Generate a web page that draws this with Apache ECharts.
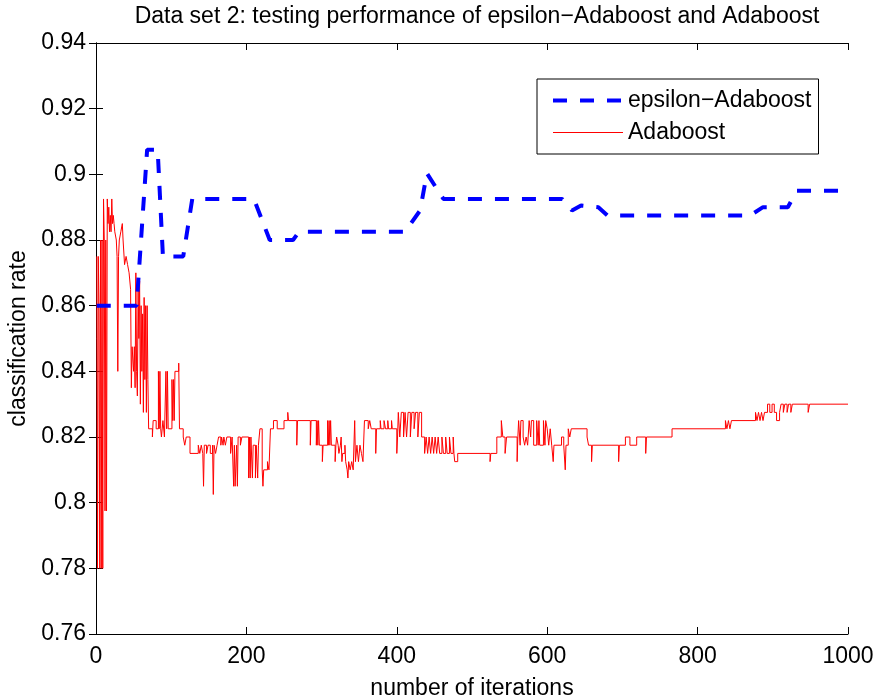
<!DOCTYPE html>
<html>
<head>
<meta charset="utf-8">
<script src="https://cdn.jsdelivr.net/npm/echarts@6/dist/echarts.min.js"></script>
<style>
  html, body { margin: 0; padding: 0; background: #fff; }
  #chart { width: 877px; height: 699px; }
</style>
</head>
<body>
<div id="chart"></div>
<script>
const titleText = 'Data set 2: testing performance of epsilon\u2212Adaboost and Adaboost'
const seriesNames = ['epsilon\u2212Adaboost', 'Adaboost']
const xTicks = [0, 200, 400, 600, 800, 1000]
const yTicks = [0.76, 0.78, 0.8, 0.82, 0.84, 0.86, 0.88, 0.9, 0.92, 0.94]

// [iteration, rate] breakpoints
const epsilonPts = [
  [1, 0.86], [54, 0.86], [68, 0.9075], [82, 0.9075], [89, 0.875], [116, 0.875],
  [128, 0.8925], [210, 0.8925], [231, 0.88], [262, 0.88], [270, 0.8825], [411, 0.8825],
  [431, 0.889], [440, 0.9003], [462, 0.8925], [620, 0.8925], [633, 0.889], [645, 0.8905],
  [668, 0.89], [680, 0.8875], [870, 0.8875], [887, 0.89], [920, 0.89], [932, 0.895], [1000, 0.895]
]

// Adaboost is a step curve: each value holds until the next breakpoint
const adaboostPts = [
  [1, 0.875], [2, 0.78], [3, 0.875], [4, 0.86], [5, 0.78], [6, 0.88], [7, 0.78], [8, 0.88],
  [9, 0.78], [10, 0.8925], [11, 0.88], [12, 0.7975], [13, 0.88], [14, 0.7975], [15, 0.8925],
  [16, 0.885], [17, 0.89], [18, 0.8825], [19, 0.8875], [20, 0.8825], [21, 0.8925], [22, 0.885],
  [23, 0.8875], [24, 0.885], [25, 0.8825], [27, 0.88], [28, 0.875], [29, 0.84], [30, 0.875],
  [31, 0.88], [33, 0.8825], [35, 0.885], [36, 0.88], [38, 0.8725], [40, 0.875], [42, 0.8725],
  [44, 0.87], [46, 0.865], [47, 0.835], [48, 0.8475], [50, 0.84], [51, 0.8475], [52, 0.835],
  [53, 0.87], [54, 0.84], [55, 0.8325], [56, 0.865], [57, 0.85], [58, 0.8675], [59, 0.83],
  [60, 0.86], [61, 0.84], [62, 0.8575], [63, 0.8275], [64, 0.8625], [65, 0.8375], [66, 0.86],
  [67, 0.8275], [68, 0.86], [69, 0.8375], [70, 0.8225], [75, 0.82], [76, 0.825], [80, 0.8225],
  [83, 0.84], [84, 0.8225], [85, 0.84], [86, 0.8225], [87, 0.82], [89, 0.825], [91, 0.82],
  [93, 0.84], [94, 0.8225], [95, 0.84], [96, 0.8225], [101, 0.8375], [102, 0.825], [103, 0.8375],
  [104, 0.825], [105, 0.84], [110, 0.8425], [111, 0.8225], [116, 0.82], [118, 0.8175], [120, 0.82],
  [122, 0.82], [125, 0.815], [136, 0.8175], [138, 0.815], [140, 0.8175], [142, 0.815], [143, 0.805],
  [144, 0.8175], [147, 0.815], [149, 0.8175], [152, 0.815], [155, 0.8175], [156, 0.8025], [157, 0.8175],
  [159, 0.815], [161, 0.8175], [163, 0.82], [166, 0.8175], [167, 0.82], [169, 0.8175], [170, 0.82],
  [172, 0.8175], [174, 0.82], [179, 0.815], [181, 0.82], [183, 0.805], [184, 0.8175], [185, 0.805],
  [187, 0.8175], [188, 0.805], [189, 0.82], [192, 0.8175], [194, 0.82], [203, 0.8075], [204, 0.82],
  [205, 0.8075], [206, 0.82], [208, 0.8075], [209, 0.8175], [212, 0.8075], [213, 0.8175], [215, 0.8075],
  [216, 0.8175], [218, 0.8225], [221, 0.81], [222, 0.805], [223, 0.81], [228, 0.8125], [230, 0.81],
  [232, 0.8225], [236, 0.825], [241, 0.8225], [250, 0.825], [255, 0.8275], [256, 0.825], [267, 0.8175],
  [268, 0.825], [285, 0.8175], [286, 0.825], [293, 0.8175], [294, 0.825], [295, 0.8175], [296, 0.825],
  [297, 0.8175], [301, 0.8125], [302, 0.8175], [308, 0.825], [309, 0.8175], [310, 0.825], [311, 0.8175],
  [312, 0.825], [313, 0.8175], [318, 0.8125], [319, 0.8175], [320, 0.82], [322, 0.8175], [323, 0.815],
  [325, 0.8175], [326, 0.82], [327, 0.8125], [328, 0.815], [331, 0.8175], [332, 0.8125], [334, 0.81],
  [335, 0.8075], [336, 0.8125], [338, 0.81], [340, 0.8125], [342, 0.81], [344, 0.825], [345, 0.8125],
  [347, 0.8175], [349, 0.8125], [351, 0.8175], [353, 0.815], [355, 0.8125], [357, 0.825], [362, 0.8225],
  [364, 0.825], [366, 0.8225], [372, 0.815], [373, 0.8225], [378, 0.825], [379, 0.8225], [383, 0.825],
  [385, 0.8225], [388, 0.825], [389, 0.8225], [393, 0.825], [394, 0.8225], [400, 0.815], [401, 0.82],
  [402, 0.8275], [404, 0.82], [406, 0.8275], [409, 0.82], [411, 0.8275], [413, 0.82], [415, 0.8275],
  [418, 0.82], [420, 0.8275], [423, 0.8225], [425, 0.8275], [428, 0.82], [430, 0.8275], [433, 0.82],
  [437, 0.815], [439, 0.82], [441, 0.815], [443, 0.82], [445, 0.815], [447, 0.82], [449, 0.815],
  [451, 0.82], [453, 0.815], [455, 0.82], [457, 0.815], [460, 0.82], [462, 0.815], [465, 0.82],
  [467, 0.815], [470, 0.82], [472, 0.815], [475, 0.82], [476, 0.815], [477, 0.8125], [481, 0.815],
  [524, 0.8125], [525, 0.815], [533, 0.82], [539, 0.825], [541, 0.82], [544, 0.815], [546, 0.82],
  [560, 0.8125], [561, 0.82], [562, 0.825], [564, 0.8175], [565, 0.825], [568, 0.82], [570, 0.8175],
  [572, 0.82], [574, 0.8175], [576, 0.825], [578, 0.82], [579, 0.825], [582, 0.8175], [586, 0.825],
  [588, 0.8175], [589, 0.825], [590, 0.8175], [595, 0.825], [597, 0.8175], [598, 0.825], [600, 0.8225],
  [602, 0.8175], [604, 0.8225], [606, 0.8175], [608, 0.8125], [609, 0.8175], [619, 0.82], [622, 0.8175],
  [624, 0.81], [625, 0.8175], [628, 0.8225], [630, 0.82], [632, 0.8225], [653, 0.82], [655, 0.8175],
  [659, 0.8125], [660, 0.8175], [695, 0.8125], [696, 0.8175], [704, 0.82], [710, 0.8175], [719, 0.82],
  [731, 0.815], [732, 0.82], [766, 0.8225], [837, 0.825], [839, 0.8225], [841, 0.825], [843, 0.8225],
  [845, 0.825], [877, 0.8275], [879, 0.825], [881, 0.8275], [883, 0.825], [885, 0.8275], [887, 0.825],
  [889, 0.8275], [893, 0.83], [896, 0.8275], [899, 0.83], [902, 0.8275], [905, 0.825], [909, 0.8275],
  [911, 0.83], [914, 0.8275], [916, 0.83], [919, 0.8275], [921, 0.83], [924, 0.8275], [926, 0.83],
  [947, 0.8275], [949, 0.83], [1000, 0.83]
]

const FONT = '"Liberation Sans", Arial, Helvetica, sans-serif'
const chart = echarts.init(document.getElementById('chart'))

const tickLabel = (v) => String(+v.toFixed(2))
const plainAxisLine = { show: true, lineStyle: { color: '#000', width: 1 } }
const innerTick = { show: true, inside: true, length: 7, lineStyle: { color: '#000', width: 1 } }

chart.setOption({
  animation: false,
  backgroundColor: '#fff',
  title: {
    text: titleText,
    left: 472,
    textAlign: 'center',
    top: 0,
    textStyle: { fontFamily: FONT, fontSize: 23, fontWeight: 'normal', color: '#000' },
  },
  legend: {
    data: [
      { name: seriesNames[0], lineStyle: { width: 4, type: [14, 13], color: '#0000ff' } },
      { name: seriesNames[1], lineStyle: { width: 1, color: '#ff0000' } },
    ],
    orient: 'vertical',
    left: 537,
    top: 79,
    padding: [10, 7, 10, 14],
    itemWidth: 70,
    itemHeight: 22,
    itemGap: 9,
    itemStyle: { opacity: 0 },
    backgroundColor: '#fff',
    borderColor: '#000',
    borderWidth: 1,
    borderRadius: 0,
    textStyle: { fontFamily: FONT, fontSize: 23, color: '#000' },
  },
  grid: { left: 96, right: 29, top: 43, bottom: 65, containLabel: false, outerBoundsMode: 'none' },
  xAxis: [{
    type: 'value',
    min: 0, max: 1000, interval: 200,
    name: 'number of iterations',
    nameLocation: 'middle',
    nameGap: 43,
    nameTextStyle: { fontFamily: FONT, fontSize: 23, color: '#000' },
    axisLine: plainAxisLine,
    axisTick: innerTick,
    axisLabel: { fontFamily: FONT, fontSize: 23, color: '#000', margin: 11, formatter: (v) => String(v) },
    splitLine: { show: false },
  }, {
    type: 'value', position: 'top',
    min: 0, max: 1000, interval: 200,
    axisLine: plainAxisLine, axisTick: innerTick,
    axisLabel: { show: false }, splitLine: { show: false },
  }],
  yAxis: [{
    type: 'value',
    min: 0.76, max: 0.94, interval: 0.02,
    name: 'classification rate',
    nameLocation: 'middle',
    nameGap: 64,
    nameRotate: 90,
    nameTextStyle: { fontFamily: FONT, fontSize: 23, color: '#000' },
    axisLine: plainAxisLine,
    axisTick: innerTick,
    axisLabel: { fontFamily: FONT, fontSize: 23, color: '#000', margin: 10, formatter: tickLabel },
    splitLine: { show: false },
  }, {
    type: 'value', position: 'right',
    min: 0.76, max: 0.94, interval: 0.02,
    axisLine: plainAxisLine, axisTick: innerTick,
    axisLabel: { show: false }, splitLine: { show: false },
  }],
  series: [{
    name: seriesNames[1],
    type: 'line',
    data: adaboostPts,
    step: 'end',
    symbol: 'none',
    lineStyle: { color: '#ff0000', width: 1 },
    itemStyle: { color: '#ff0000' },
    z: 2,
  }, {
    name: seriesNames[0],
    type: 'line',
    data: epsilonPts,
    symbol: 'none',
    lineStyle: { color: '#0000ff', width: 4, type: [14, 13], cap: 'butt' },
    itemStyle: { color: '#0000ff' },
    z: 3,
  }],
})
</script>
</body>
</html>
